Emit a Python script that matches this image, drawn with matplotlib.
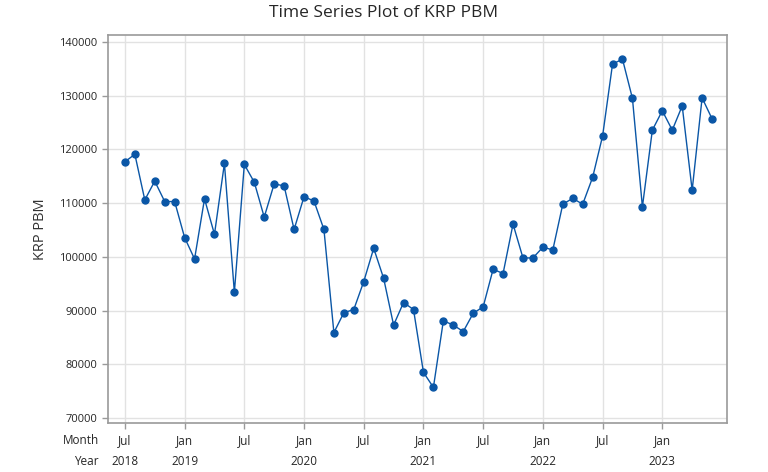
import matplotlib.pyplot as plt
import numpy as np

# monthly values, Jul 2018 .. Jun 2023
krp_pbm = [117700, 119100, 110600, 114100, 110300, 110300, 103600, 99600,
           110800, 104200, 117400, 93400, 117200, 113900, 107400, 113600,
           113200, 105100, 111200, 110400, 105100, 85900, 89600, 90200,
           95400, 101600, 96000, 87300, 91500, 90200, 78500, 75700,
           88100, 87300, 86100, 89500, 90700, 97700, 96900, 106100,
           99800, 99800, 101800, 101300, 109800, 110900, 109800, 114800,
           122500, 135900, 136800, 129500, 109300, 123600, 127200, 123600,
           128100, 112400, 129600, 125700]

month_labels = ['Jul', 'Jan', 'Jul', 'Jan', 'Jul', 'Jan', 'Jul', 'Jan', 'Jul', 'Jan']
year_labels = ['2018', '2019', '', '2020', '', '2021', '', '2022', '', '2023']
y_ticks = [70000, 80000, 90000, 100000, 110000, 120000, 130000, 140000]

blue = '#0a56a6'
grey = '#9a9a9a'
txt = '#262626'
plt.rcParams['font.family'] = ['Open Sans', 'DejaVu Sans']

fig = plt.figure(figsize=(7.68, 4.72), dpi=100)
ax = fig.add_axes([0.1406, 0.1038, 0.806, 0.822])

idx = np.arange(len(krp_pbm))
ax.plot(idx, krp_pbm, color=blue, linewidth=1.0, marker='o', markersize=5,
        markeredgecolor=blue, markerfacecolor=blue)

tick_pos = np.arange(0, len(krp_pbm), 6)
ax.set_xticks(tick_pos)
ax.set_xticklabels([])
ax.set_xlim(-1.7, 60.5)
ax.set_yticks(y_ticks)
ax.set_yticklabels([str(v) for v in y_ticks], fontsize=8)
ax.set_ylim(69070, 141300)

ax.grid(True, color='#e2e2e2', linewidth=1.0)
ax.set_axisbelow(True)
for s in ax.spines.values():
    s.set_color(grey)
    s.set_linewidth(1.2)
ax.tick_params(axis='both', colors=grey, labelcolor=txt, length=4, width=1)

# two-row time scale like Minitab
for p, m, yr in zip(tick_pos, month_labels, year_labels):
    ax.text(p, -0.045, m, transform=ax.get_xaxis_transform(), ha='center',
            va='center', fontsize=8.5, color=txt)
    if yr:
        ax.text(p, -0.10, yr, transform=ax.get_xaxis_transform(), ha='center',
                va='center', fontsize=8.5, color=txt)
ax.text(-0.015, -0.045, 'Month', transform=ax.transAxes, ha='right', va='center',
        fontsize=8.5, color=txt)
ax.text(-0.015, -0.10, 'Year', transform=ax.transAxes, ha='right', va='center',
        fontsize=8.5, color=txt)

ax.set_ylabel('KRP PBM', fontsize=10.5, color='#333333', labelpad=8)
fig.text(0.5, 0.972, 'Time Series Plot of KRP PBM', ha='center', va='center',
         fontsize=12.5, color=txt)

fig.savefig('out.png', dpi=100)
